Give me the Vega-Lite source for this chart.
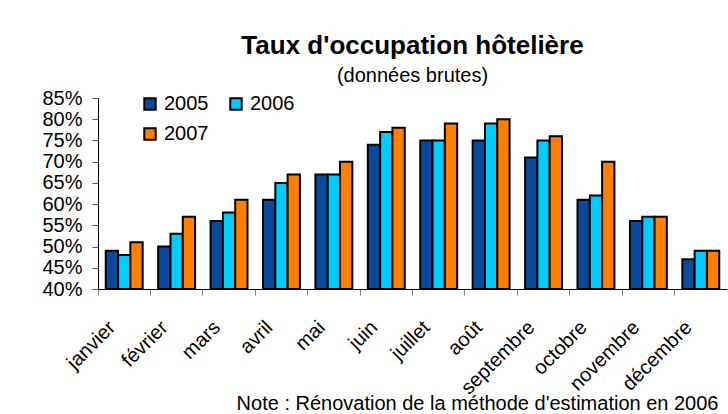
{
  "$schema": "https://vega.github.io/schema/vega-lite/v6.json",
  "width": 629,
  "height": 191,
  "autosize": {"type": "none"},
  "padding": {"left": 98, "top": 98, "right": 1, "bottom": 125},
  "background": "white",
  "config": {
    "font": "Liberation Sans",
    "view": {"stroke": null}
  },
  "title": {
    "text": "Taux d'occupation hôtelière",
    "subtitle": "(données brutes)",
    "fontSize": 26,
    "fontWeight": "bold",
    "color": "black",
    "subtitleFontSize": 20,
    "subtitleColor": "black",
    "subtitlePadding": 7,
    "anchor": "middle",
    "offset": 2
  },
  "data": {
    "values": [
      {"mois": "janvier", "annee": "2005", "taux": 0.49},
      {"mois": "janvier", "annee": "2006", "taux": 0.48},
      {"mois": "janvier", "annee": "2007", "taux": 0.51},
      {"mois": "février", "annee": "2005", "taux": 0.50},
      {"mois": "février", "annee": "2006", "taux": 0.53},
      {"mois": "février", "annee": "2007", "taux": 0.57},
      {"mois": "mars", "annee": "2005", "taux": 0.56},
      {"mois": "mars", "annee": "2006", "taux": 0.58},
      {"mois": "mars", "annee": "2007", "taux": 0.61},
      {"mois": "avril", "annee": "2005", "taux": 0.61},
      {"mois": "avril", "annee": "2006", "taux": 0.65},
      {"mois": "avril", "annee": "2007", "taux": 0.67},
      {"mois": "mai", "annee": "2005", "taux": 0.67},
      {"mois": "mai", "annee": "2006", "taux": 0.67},
      {"mois": "mai", "annee": "2007", "taux": 0.70},
      {"mois": "juin", "annee": "2005", "taux": 0.74},
      {"mois": "juin", "annee": "2006", "taux": 0.77},
      {"mois": "juin", "annee": "2007", "taux": 0.78},
      {"mois": "juillet", "annee": "2005", "taux": 0.75},
      {"mois": "juillet", "annee": "2006", "taux": 0.75},
      {"mois": "juillet", "annee": "2007", "taux": 0.79},
      {"mois": "août", "annee": "2005", "taux": 0.75},
      {"mois": "août", "annee": "2006", "taux": 0.79},
      {"mois": "août", "annee": "2007", "taux": 0.80},
      {"mois": "septembre", "annee": "2005", "taux": 0.71},
      {"mois": "septembre", "annee": "2006", "taux": 0.75},
      {"mois": "septembre", "annee": "2007", "taux": 0.76},
      {"mois": "octobre", "annee": "2005", "taux": 0.61},
      {"mois": "octobre", "annee": "2006", "taux": 0.62},
      {"mois": "octobre", "annee": "2007", "taux": 0.70},
      {"mois": "novembre", "annee": "2005", "taux": 0.56},
      {"mois": "novembre", "annee": "2006", "taux": 0.57},
      {"mois": "novembre", "annee": "2007", "taux": 0.57},
      {"mois": "décembre", "annee": "2005", "taux": 0.47},
      {"mois": "décembre", "annee": "2006", "taux": 0.49},
      {"mois": "décembre", "annee": "2007", "taux": 0.49}
    ]
  },
  "mark": {"type": "bar", "stroke": "black", "strokeWidth": 2},
  "encoding": {
    "x": {
      "field": "mois",
      "type": "nominal",
      "sort": null,
      "scale": {"paddingInner": 0, "paddingOuter": 0},
      "axis": {
        "title": "Note : Rénovation de la méthode d'estimation en 2006",
        "titleFontSize": 20,
        "titleFontWeight": "normal",
        "titleColor": "black",
        "titleAnchor": "end",
        "titleAlign": "right",
        "titleBaseline": "alphabetic",
        "titleX": 620,
        "titleY": 120,
        "labelAngle": -45,
        "labelAlign": "right",
        "labelBaseline": "middle",
        "labelFontSize": 20,
        "labelColor": "black",
        "labelPadding": 29,
        "labelOffset": -12,
        "bandPosition": 0,
        "tickColor": "#808080",
        "tickSize": 6,
        "domainColor": "black",
        "labelOverlap": false
      }
    },
    "xOffset": {
      "field": "annee",
      "type": "nominal",
      "scale": {"paddingOuter": 0.63, "paddingInner": 0}
    },
    "y": {
      "field": "taux",
      "type": "quantitative",
      "scale": {"domain": [0.4, 0.85], "zero": false, "nice": false},
      "axis": {
        "title": null,
        "format": ".0%",
        "values": [0.4, 0.45, 0.5, 0.55, 0.6, 0.65, 0.7, 0.75, 0.8, 0.85],
        "labelFontSize": 20,
        "labelColor": "black",
        "labelPadding": 10,
        "tickSize": 6,
        "tickColor": "#555555",
        "domainColor": "black",
        "grid": false
      }
    },
    "y2": {"datum": 0.4},
    "fill": {
      "field": "annee",
      "type": "nominal",
      "scale": {"domain": ["2005", "2006", "2007"], "range": ["#0B4A9B", "#00CCFF", "#FF8000"]},
      "legend": {
        "title": null,
        "orient": "none",
        "legendX": 42,
        "legendY": -4,
        "direction": "horizontal",
        "columns": 2,
        "columnPadding": 17,
        "rowPadding": 10,
        "symbolType": "square",
        "symbolSize": 130,
        "symbolStrokeColor": "black",
        "symbolStrokeWidth": 2,
        "labelFontSize": 20,
        "labelColor": "black",
        "labelOffset": 4
      }
    }
  }
}
